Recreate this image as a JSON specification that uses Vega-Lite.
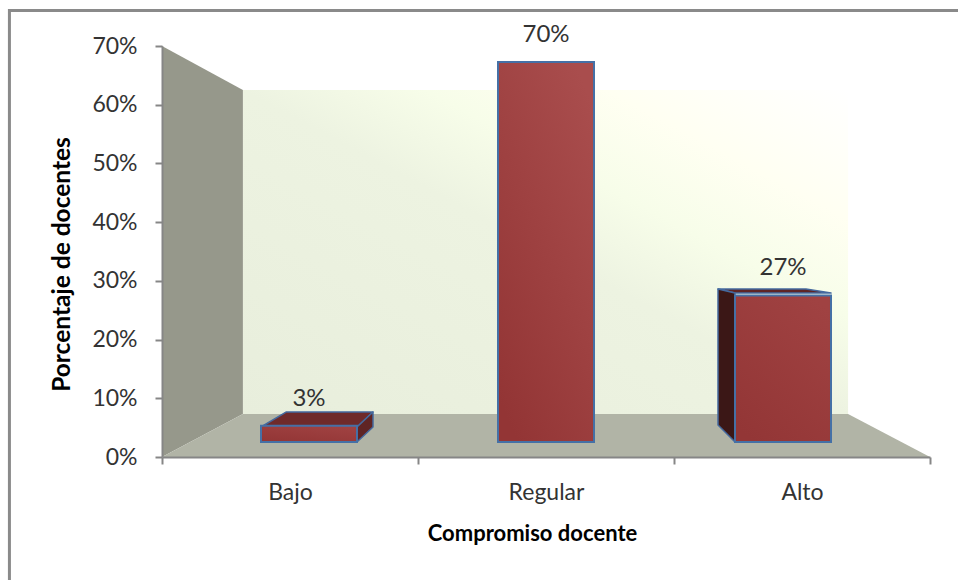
{
  "$schema": "https://vega.github.io/schema/vega-lite/v6.json",
  "width": 768,
  "height": 411,
  "autosize": {"type": "none"},
  "padding": {"left": 162, "top": 46, "right": 28, "bottom": 123},
  "background": "#ffffff",
  "view": {"stroke": null},
  "datasets": {
    "docentes": [
      {"categoria": "Bajo", "valor": 0.03},
      {"categoria": "Regular", "valor": 0.70},
      {"categoria": "Alto", "valor": 0.27}
    ],
    "marco": [
      {"orden": 1, "x": -0.596, "y": -0.21},
      {"orden": 2, "x": -0.596, "y": 0.7605},
      {"orden": 3, "x": 3.11, "y": 0.7605}
    ],
    "pared": [
      {"x": 0, "y": 0.70, "y2": 0},
      {"x": 0.316, "y": 0.625, "y2": 0.0732}
    ],
    "suelo": [
      {"x": 0, "y": 0, "y2": 0},
      {"x": 0.316, "y": 0.0732, "y2": 0},
      {"x": 2.68, "y": 0.0732, "y2": 0},
      {"x": 3, "y": 0, "y2": 0}
    ],
    "fondo": [
      {"x": 0.316, "x2": 2.68, "y": 0.625, "y2": 0.0732}
    ],
    "caras": [
      {"cara": "Bajo superior", "orden": 1, "x": 0.3867, "y": 0.0511},
      {"cara": "Bajo superior", "orden": 2, "x": 0.7617, "y": 0.0511},
      {"cara": "Bajo superior", "orden": 3, "x": 0.8242, "y": 0.0766},
      {"cara": "Bajo superior", "orden": 4, "x": 0.4844, "y": 0.0766},
      {"cara": "Bajo lateral", "orden": 1, "x": 0.7617, "y": 0.0511},
      {"cara": "Bajo lateral", "orden": 2, "x": 0.8242, "y": 0.0766},
      {"cara": "Bajo lateral", "orden": 3, "x": 0.8242, "y": 0.0511},
      {"cara": "Bajo lateral", "orden": 4, "x": 0.7617, "y": 0.0255},
      {"cara": "Alto superior", "orden": 1, "x": 2.2383, "y": 0.2793},
      {"cara": "Alto superior", "orden": 2, "x": 2.1719, "y": 0.2861},
      {"cara": "Alto superior", "orden": 3, "x": 2.5156, "y": 0.2861},
      {"cara": "Alto superior", "orden": 4, "x": 2.6133, "y": 0.2793},
      {"cara": "Alto lateral", "orden": 1, "x": 2.2383, "y": 0.2793},
      {"cara": "Alto lateral", "orden": 2, "x": 2.1719, "y": 0.2861},
      {"cara": "Alto lateral", "orden": 3, "x": 2.1719, "y": 0.0545},
      {"cara": "Alto lateral", "orden": 4, "x": 2.2383, "y": 0.0255}
    ]
  },
  "resolve": {"scale": {"x": "independent", "y": "independent"}},
  "layer": [
    {
      "layer": [
        {
          "data": {"name": "marco"},
          "mark": {"type": "line", "stroke": "#8a8a8a", "strokeWidth": 3, "clip": false},
          "encoding": {
            "x": {"field": "x", "type": "quantitative", "axis": null, "scale": {"domain": [0, 3], "nice": false, "zero": false}},
            "y": {"field": "y", "type": "quantitative", "axis": null, "scale": {"domain": [0, 0.7], "nice": false, "zero": false}},
            "order": {"field": "orden"}
          }
        },
        {
          "data": {"name": "fondo"},
          "mark": {
            "type": "rect",
            "color": {
              "gradient": "linear", "x1": 0, "y1": 1, "x2": 1, "y2": 0,
              "stops": [
                {"offset": 0, "color": "#e8eedc"},
                {"offset": 0.5, "color": "#edf3e1"},
                {"offset": 0.65, "color": "#f7fde9"},
                {"offset": 0.8, "color": "#fffff2"},
                {"offset": 1, "color": "#ffffff"}
              ]
            }
          },
          "encoding": {
            "x": {"field": "x", "type": "quantitative", "axis": null},
            "x2": {"field": "x2"},
            "y": {"field": "y", "type": "quantitative", "axis": null},
            "y2": {"field": "y2"}
          }
        },
        {
          "data": {"name": "pared"},
          "mark": {"type": "area", "color": "#96988b"},
          "encoding": {
            "x": {"field": "x", "type": "quantitative", "axis": null},
            "y": {"field": "y", "type": "quantitative", "axis": null},
            "y2": {"field": "y2"}
          }
        },
        {
          "data": {"name": "suelo"},
          "mark": {"type": "area", "color": "#b1b4a6"},
          "encoding": {
            "x": {"field": "x", "type": "quantitative", "axis": null},
            "y": {"field": "y", "type": "quantitative", "axis": null},
            "y2": {"field": "y2"}
          }
        },
        {
          "data": {"name": "caras"},
          "mark": {"type": "line", "interpolate": "linear-closed", "stroke": "#44699e", "strokeWidth": 1.5, "strokeJoin": "round"},
          "encoding": {
            "x": {"field": "x", "type": "quantitative", "axis": null},
            "y": {"field": "y", "type": "quantitative", "axis": null},
            "order": {"field": "orden"},
            "fill": {
              "field": "cara",
              "type": "nominal",
              "legend": null,
              "scale": {
                "domain": ["Bajo superior", "Bajo lateral", "Alto superior", "Alto lateral"],
                "range": ["#6f2a2a", "#5f2424", "#5f2525", "#3b1716"]
              }
            }
          }
        }
      ]
    },
    {
      "data": {"name": "docentes"},
      "encoding": {
        "x": {
          "field": "categoria",
          "type": "nominal",
          "axis": null,
          "sort": null,
          "scale": {"domain": ["Bajo", "Regular", "Alto"], "range": [28.5, 739.5], "paddingInner": 0.595, "paddingOuter": 0.2975}
        },
        "y": {
          "field": "valor",
          "type": "quantitative",
          "axis": null,
          "scale": {"domain": [0, 0.7], "range": [396, 16], "nice": false, "zero": false}
        }
      },
      "layer": [
        {
          "mark": {"type": "bar", "stroke": "#4570a6", "strokeWidth": 2},
          "encoding": {
            "y2": {"datum": 0},
            "fill": {
              "condition": {
                "test": "datum.categoria === 'Regular'",
                "value": {
                  "gradient": "linear", "x1": 0.8, "y1": 0, "x2": 0.2, "y2": 1,
                  "stops": [{"offset": 0, "color": "#a94d4d"}, {"offset": 1, "color": "#933535"}]
                }
              },
              "value": {
                "gradient": "linear", "x1": 0.8, "y1": 0, "x2": 0.2, "y2": 1,
                "stops": [{"offset": 0, "color": "#a04242"}, {"offset": 1, "color": "#933636"}]
              }
            }
          }
        },
        {
          "mark": {"type": "text", "font": "Lato", "fontSize": 24, "color": "#333333", "baseline": "middle", "dy": -27},
          "encoding": {
            "text": {"field": "valor", "type": "quantitative", "format": ".0%"}
          }
        }
      ]
    },
    {
      "data": {"name": "docentes"},
      "mark": {"type": "rule", "opacity": 0},
      "encoding": {
        "x": {
          "field": "categoria",
          "type": "nominal",
          "sort": null,
          "scale": {"domain": ["Bajo", "Regular", "Alto"], "paddingInner": 0, "paddingOuter": 0},
          "axis": {
            "title": "Compromiso docente",
            "titleFont": "Lato",
            "titleFontSize": 22,
            "titleFontWeight": "bold",
            "titleColor": "#000000",
            "titleX": 370,
            "titleY": 76,
            "titleBaseline": "middle",
            "titleAlign": "center",
            "labelFont": "Lato",
            "labelFontSize": 23,
            "labelColor": "#333333",
            "labelAngle": 0,
            "labelPadding": 28,
            "labelBaseline": "middle",
            "tickBand": "extent",
            "tickColor": "#868686",
            "tickSize": 7,
            "tickWidth": 2,
            "domainColor": "#868686",
            "domainWidth": 2,
            "grid": false,
            "zindex": 1
          }
        },
        "y": {
          "field": "valor",
          "type": "quantitative",
          "scale": {"domain": [0, 0.7], "nice": false, "zero": false},
          "axis": {
            "title": "Porcentaje de docentes",
            "titleFont": "Lato",
            "titleFontSize": 24.5,
            "titleFontWeight": "bold",
            "titleColor": "#000000",
            "titleX": -100,
            "titleY": 218,
            "titleBaseline": "middle",
            "titleAlign": "center",
            "values": [0, 0.1, 0.2, 0.3, 0.4, 0.5, 0.6, 0.7],
            "format": ".0%",
            "labelFont": "Lato",
            "labelFontSize": 23,
            "labelColor": "#333333",
            "labelPadding": 18,
            "labelBaseline": "middle",
            "tickColor": "#868686",
            "tickSize": 7,
            "tickWidth": 2,
            "domainColor": "#868686",
            "domainWidth": 2,
            "grid": false,
            "zindex": 1
          }
        }
      }
    }
  ]
}
